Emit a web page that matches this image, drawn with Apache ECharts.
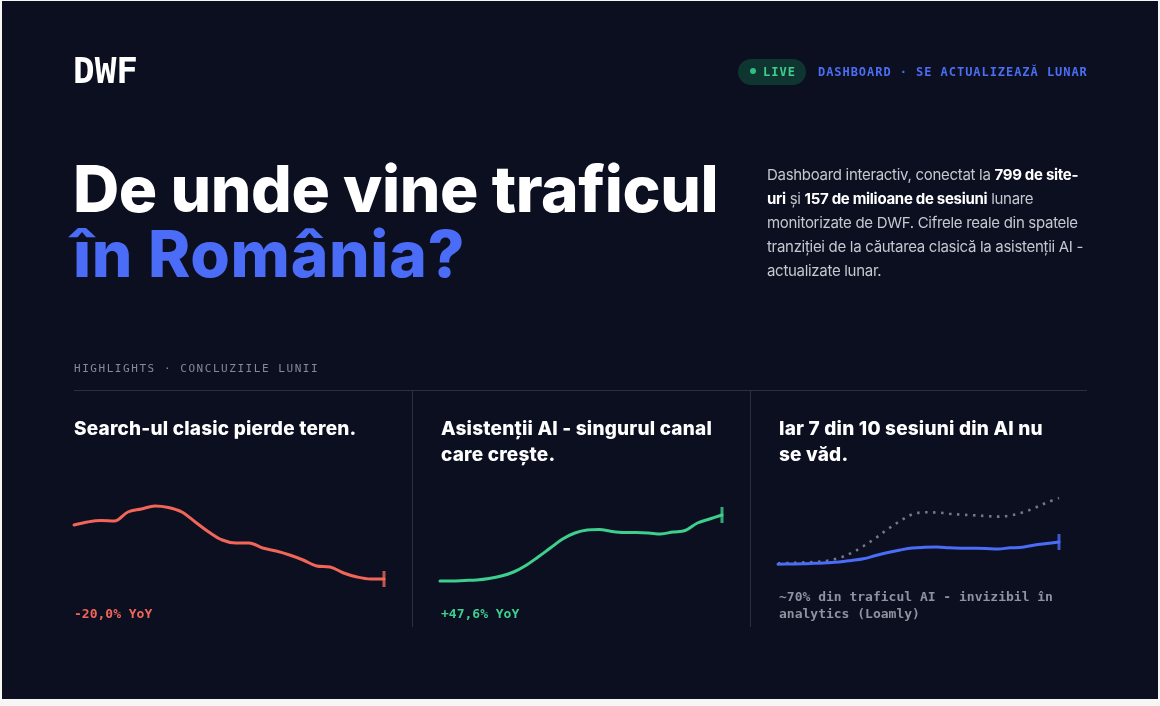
<!DOCTYPE html>
<html><head><meta charset="utf-8">
<script src="https://cdn.jsdelivr.net/npm/echarts@6/dist/echarts.min.js"></script>
<style>
html,body{margin:0;padding:0;width:1160px;height:706px;background:#f6f6f4;overflow:hidden;}
#panel{position:absolute;left:2px;top:1px;width:1156px;height:698px;background:#0b0f20;}
.t{position:absolute;white-space:nowrap;}
.mono{font-family:"DejaVu Sans Mono",monospace;}
.sans{font-family:Inter,"Noto Sans",sans-serif;}
#chart{position:absolute;left:0;top:0;width:1160px;height:706px;}
.line{position:absolute;background:#2b3041;}
.p b{color:#fff;font-weight:700;}
.h{font-size:19px;line-height:26px;font-weight:800;letter-spacing:0.2px;color:#fff;}
</style></head><body>
<div id="panel"></div>
<div id="chart"></div>

<div class="t mono" style="left:73px;top:50px;font-size:36px;font-weight:bold;color:#fff;line-height:42px;">DWF</div>

<div style="position:absolute;left:738px;top:59px;width:68px;height:26px;border-radius:13px;background:#0f3530;"></div>
<div style="position:absolute;left:750px;top:68px;width:6px;height:6px;border-radius:3px;background:#2fbf82;"></div>
<div class="t mono" style="left:763px;top:65px;font-size:12px;line-height:14px;font-weight:bold;letter-spacing:1px;color:#3ecf8e;">LIVE</div>
<div class="t mono" style="left:818px;top:65px;font-size:12px;line-height:14px;font-weight:bold;letter-spacing:0.95px;color:#4c6ef5;">DASHBOARD · SE ACTUALIZEAZĂ LUNAR</div>

<div class="t sans" style="left:73px;top:156px;font-size:64px;line-height:65px;font-weight:800;letter-spacing:-0.4px;color:#ffffff;">De unde vine traficul<br><span style="color:#4a6cf7;letter-spacing:0.7px;">în România?</span></div>

<div class="t sans p" style="left:767px;top:163px;font-size:15px;line-height:24px;letter-spacing:-0.3px;color:#c5c8d0;">Dashboard interactiv, conectat la <b>799 de site-</b><br><b>uri</b> și <b>157 de milioane de sesiuni</b> lunare<br>monitorizate de DWF. Cifrele reale din spatele<br>tranziției de la căutarea clasică la asistenții AI -<br>actualizate lunar.</div>

<div class="t mono" style="left:74px;top:362px;font-size:11px;line-height:13px;letter-spacing:1.55px;color:#858a97;">HIGHLIGHTS · CONCLUZIILE LUNII</div>

<div class="line" style="left:74px;top:390px;width:1013px;height:1px;"></div>
<div class="line" style="left:412px;top:391px;width:1px;height:236px;"></div>
<div class="line" style="left:750px;top:391px;width:1px;height:236px;"></div>

<div class="t sans h" style="left:74px;top:416px;">Search-ul clasic pierde teren.</div>
<div class="t sans h" style="left:441px;top:416px;">Asistenții AI - singurul canal<br>care crește.</div>
<div class="t sans h" style="left:779px;top:416px;">Iar 7 din 10 sesiuni din AI nu<br>se văd.</div>

<div class="t mono" id="yoy1" style="left:74px;top:606px;font-size:13px;line-height:16px;font-weight:bold;color:#f2665a;"></div>
<div class="t mono" id="yoy2" style="left:441px;top:606px;font-size:13px;line-height:16px;font-weight:bold;color:#3ecf8e;"></div>
<div class="t mono" style="left:779px;top:588px;font-size:13px;line-height:17px;font-weight:bold;color:#8e93a0;">~70% din traficul AI - invizibil în<br>analytics (Loamly)</div>

<script>
// Sparkline values (relative index)
const searchClassic = [75, 78, 79.5, 79, 88, 91, 94, 92.5, 88, 78, 68, 60, 57, 57, 52, 49, 45, 40, 34, 33, 27, 23, 21, 21];
const aiAssistants  = [19, 19, 19.5, 20, 21.5, 24, 28, 34.5, 43, 52, 61, 67, 70, 70.5, 68.5, 67.5, 67.5, 67, 66, 68, 69.5, 77, 81, 85];
const aiVisible     = [35.7, 36, 36.2, 36.7, 37.2, 38, 39.5, 41.2, 44.5, 47.5, 50, 52, 52.7, 53, 52.2, 51.8, 51.7, 51.5, 51, 52.2, 52.7, 55, 56.5, 58];
const aiTotal       = [36.7, 37, 37.5, 38, 39.2, 42, 47, 54, 62, 71, 79, 85.7, 87.7, 87.5, 86.3, 85.3, 84.7, 84, 83.4, 84.5, 87.5, 92, 97.5, 102];
const yoyLabels = ['-20,0% YoY', '+47,6% YoY'];

document.getElementById('yoy1').textContent = yoyLabels[0];
document.getElementById('yoy2').textContent = yoyLabels[1];

const RED = '#f2665a', GREEN = '#3ecf8e', BLUE = '#4a6cf7', GREY = '#747987';
const pts = arr => arr.map((v, i) => [i, v]);
const last = arr => [[arr.length - 1, arr[arr.length - 1]]];

const grids = [
  {left: 74, top: 490, width: 310, height: 110},
  {left: 440, top: 490, width: 282, height: 110},
  {left: 778, top: 490, width: 281, height: 110}
];
const xAxes = grids.map((g, i) => ({type: 'value', gridIndex: i, min: 0, max: 23, show: false}));
const yAxes = grids.map((g, i) => ({type: 'value', gridIndex: i, min: 0, max: 110, show: false}));

function lineS(data, idx, color, extra) {
  return Object.assign({
    type: 'line', xAxisIndex: idx, yAxisIndex: idx, data: pts(data), smooth: 0.35,
    symbol: 'none', lineStyle: {color: color, width: 3, cap: 'round', join: 'round'}
  }, extra || {});
}
function endTick(data, idx, color) {
  return {type: 'scatter', xAxisIndex: idx, yAxisIndex: idx, data: last(data),
    symbol: 'rect', symbolSize: [3, 16], itemStyle: {color: color}, z: 5};
}

const chart = echarts.init(document.getElementById('chart'), null, {renderer: 'canvas'});
chart.setOption({
  animation: false,
  backgroundColor: 'transparent',
  grid: grids, xAxis: xAxes, yAxis: yAxes,
  series: [
    lineS(searchClassic, 0, RED), endTick(searchClassic, 0, RED),
    lineS(aiAssistants, 1, GREEN), endTick(aiAssistants, 1, GREEN),
    lineS(aiTotal, 2, GREY, {lineStyle: {color: GREY, width: 2.6, type: [2.5, 5.5], cap: 'butt'}}),
    lineS(aiVisible, 2, BLUE), endTick(aiVisible, 2, BLUE)
  ]
});
</script>
</body></html>
